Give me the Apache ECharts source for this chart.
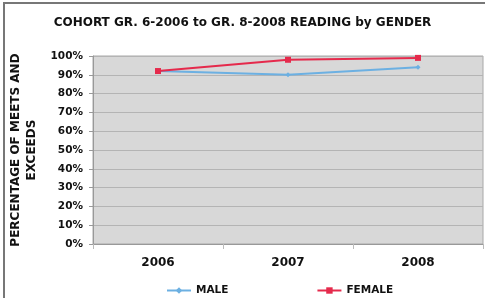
<!DOCTYPE html>
<html>
<head>
<meta charset="utf-8">
<script src="https://cdn.jsdelivr.net/npm/echarts@6/dist/echarts.min.js"></script>
<style>
  html, body { margin: 0; padding: 0; background: #fff; }
  #frame { position: absolute; left: 3px; top: 2px; width: 485px; height: 300px;
           border-left: 2px solid #777; border-top: 2px solid #777; box-sizing: border-box; }
  #chart { position: absolute; left: 0; top: 0; width: 485px; height: 298px; }
</style>
</head>
<body>
<div id="frame"></div>
<div id="chart"></div>
<script>
const years = ['2006', '2007', '2008'];
const male = [92, 90, 94];
const female = [92, 98, 99];
const yTicks = [0, 10, 20, 30, 40, 50, 60, 70, 80, 90, 100];

const font = 'DejaVu Sans, Verdana, sans-serif';
const chart = echarts.init(document.getElementById('chart'));

chart.setOption({
  backgroundColor: 'transparent',
  animation: false,
  title: {
    text: 'COHORT GR. 6-2006 to GR. 8-2008 READING by GENDER',
    left: 'center',
    top: 12,
    textStyle: { fontFamily: font, fontSize: 12, fontWeight: 'bold', color: '#111' },
  },
  legend: {
    bottom: -3,
    left: 161,
    itemGap: 88,
    itemWidth: 24,
    itemHeight: 8,
    textStyle: { fontFamily: font, fontSize: 10.5, fontWeight: 'bold', color: '#111' },
    data: ['MALE', 'FEMALE'],
  },
  grid: {
    left: 93,
    right: 2,
    top: 56,
    bottom: 54,
    outerBoundsMode: 'none',
    containLabel: false,
    show: true,
    backgroundColor: '#d8d8d8',
    borderColor: '#a8a8a8',
    borderWidth: 1,
  },
  xAxis: {
    type: 'category',
    data: years,
    boundaryGap: true,
    axisLine: { lineStyle: { color: '#999' } },
    axisTick: { show: true, lineStyle: { color: '#bbb' } },
    axisLabel: { fontFamily: font, fontSize: 12, fontWeight: 'bold', color: '#111', margin: 13 },
  },
  yAxis: {
    type: 'value',
    min: yTicks[0],
    max: yTicks[yTicks.length - 1],
    interval: 10,
    name: 'PERCENTAGE OF MEETS AND\nEXCEEDS',
    nameLocation: 'middle',
    nameGap: 47,
    nameTextStyle: { fontFamily: font, fontSize: 12, fontWeight: 'bold', color: '#111', lineHeight: 16 },
    axisLine: { show: true, lineStyle: { color: '#999' } },
    axisTick: { show: true, length: 4, lineStyle: { color: '#999' } },
    axisLabel: { fontFamily: font, fontSize: 10.5, fontWeight: 'bold', color: '#111', formatter: '{value}%', margin: 10 },
    splitLine: { lineStyle: { color: '#b4b4b4', width: 1 } },
  },
  series: [
    {
      name: 'MALE',
      type: 'line',
      data: male,
      symbol: 'diamond',
      symbolSize: 5,
      lineStyle: { color: '#6cb0e2', width: 2 },
      itemStyle: { color: '#6cb0e2' },
    },
    {
      name: 'FEMALE',
      type: 'line',
      data: female,
      symbol: 'rect',
      symbolSize: 6,
      lineStyle: { color: '#e52a4c', width: 2 },
      itemStyle: { color: '#e52a4c' },
    },
  ],
});
</script>
</body>
</html>
